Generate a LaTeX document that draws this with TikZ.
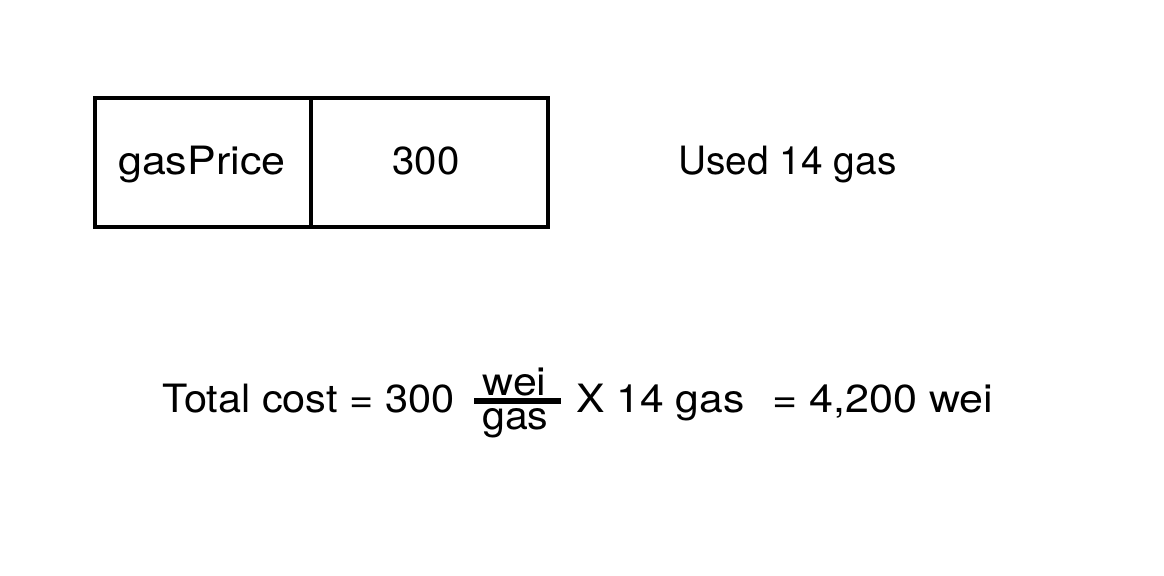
\documentclass[tikz,border=0pt]{standalone}
\usepackage{fontspec}
\setmainfont{TeX Gyre Heros}
\usepackage{graphicx}
\newcommand\fitto[2]{\sbox0{#2}\scalebox{\fpeval{(#1)/(\the\wd0)}}[1]{#2}}
\begin{document}
\begin{tikzpicture}[x=0.5pt,y=-0.5pt,
  cell/.style={draw, line width=2pt, rectangle, inner sep=0pt, outer sep=0pt, minimum height=64.5pt},
  txt/.style={inner sep=0pt, anchor=base west, font=\fontsize{19.5}{23}\selectfont},
  bar/.style={line width=3pt}]
\useasboundingbox (0,0) rectangle (1164,576);
\node[cell, minimum width=107.75pt] (gpcell) at (202.75,162.5) {};
\node[cell, minimum width=118.75pt] (valcell) at (429.25,162.5) {};
\node[txt] (gp) at (118,175) {\fitto{83.5pt}{gasPrice}};
\node[txt] (gpv) at (392,175) {\fitto{33.5pt}{300}};
\node[txt] (used) at (678,175) {\fitto{109pt}{Used 14 gas}};
\node[txt] (tc) at (162,413) {\fitto{146pt}{Total cost = 300}};
\node[txt] (num) at (482,396) {\fitto{32pt}{wei}};
\node[txt] (den) at (482,430) {\fitto{33pt}{gas}};
\coordinate (barl) at (474,401);
\coordinate (barr) at (561,401);
\draw[bar] (barl) -- (barr);
\node[txt] (times) at (576,413) {\fitto{84pt}{X 14 gas}};
\node[txt] (res) at (772,413) {\fitto{110.5pt}{= 4,200 wei}};
\end{tikzpicture}
\end{document}
